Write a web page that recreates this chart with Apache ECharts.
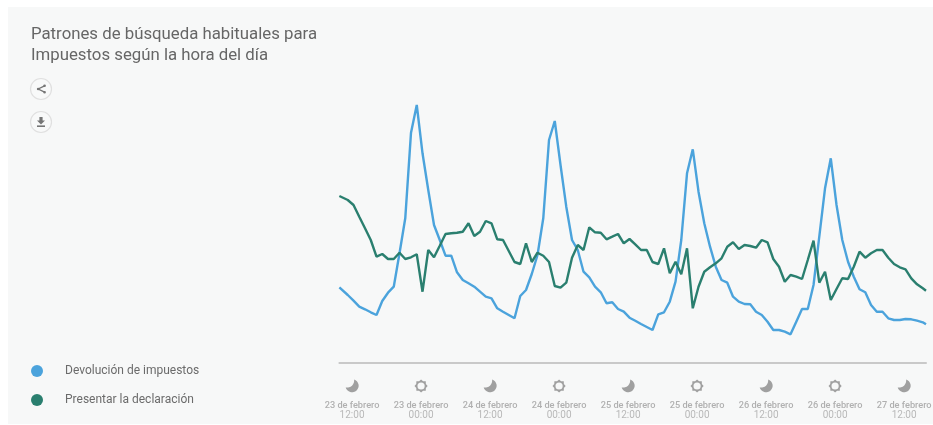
<!DOCTYPE html>
<html>
<head>
<meta charset="utf-8">
<style>html,body{margin:0;padding:0;background:#fff}#chart{width:933px;height:425px}</style>
<script src="https://cdn.jsdelivr.net/npm/echarts@6/dist/echarts.min.js"></script>
</head>
<body>
<div id="chart"></div>
<script>
// Hour offset of each sample; the first and last samples fall between whole hours.
const hours = [-0.46, 1, 2, 3, 4, 5, 6, 7, 8, 9, 10, 11, 12, 13, 14, 15, 16, 17, 18, 19, 20,
  21, 22, 23, 24, 25, 26, 27, 28, 29, 30, 31, 32, 33, 34, 35, 36, 37, 38, 39, 40,
  41, 42, 43, 44, 45, 46, 47, 48, 49, 50, 51, 52, 53, 54, 55, 56, 57, 58, 59, 60,
  61, 62, 63, 64, 65, 66, 67, 68, 69, 70, 71, 72, 73, 74, 75, 76, 77, 78, 79, 80,
  81, 82, 83, 84, 85, 86, 87, 88, 89, 90, 91, 92, 93, 94, 95, 96, 97, 98, 99, 100,
  101, 101.56];

const devolucion = [75.7, 68, 62.3, 56.3, 53.7, 50.7, 48, 62, 70.3, 76.3, 109.7, 144.7, 230.3, 258, 209.7,
  173, 138, 123, 107.3, 107.3, 90.7, 83, 79.7, 76.3, 71.3, 66.3, 64.7, 54.7, 51.3, 48,
  44.7, 67, 73, 89, 108, 144.7, 223, 242, 198, 156.3, 123, 113, 91.3, 85.7, 76.3,
  70.7, 59.7, 60.7, 54, 51.3, 45.3, 42.3, 39, 36, 33, 48.7, 50.7, 61.3, 81.3, 123,
  189.7, 213.7, 171.3, 139.7, 116.3, 96.3, 83, 80.3, 66.3, 61.3, 59, 58.7, 51.3, 48, 41.3,
  33, 33, 31.3, 28.7, 41.3, 54, 54, 78, 126.3, 174.7, 204.7, 158, 123, 101.3, 86.3,
  73.7, 70.7, 58, 51.3, 51.3, 44.7, 43, 43, 44, 43.7, 42.3, 40.7, 38.7];

const presentar = [167, 163, 158, 146.3, 134.7, 123, 106.3, 109, 104, 104, 110.3, 104, 105.7, 108.7, 71.3,
  113, 105.7, 117.3, 129, 129.7, 130.3, 131.3, 139.7, 127, 131.3, 142, 139.7, 123.7, 123, 112,
  101, 99, 119.7, 101, 110.3, 107.3, 101, 77, 75.3, 80.3, 105.3, 118, 113, 135.7, 130.7,
  130.3, 123.7, 126.3, 129, 119.7, 124, 118.7, 113, 113, 101, 99, 114.7, 89.7, 101.3, 88.7,
  114.7, 54.7, 76.3, 91.3, 95.7, 99.7, 104.7, 116.3, 120.7, 114, 118, 117, 115.3, 123, 120.7,
  104, 96.3, 81.3, 88, 86.3, 84, 103, 122.3, 80.3, 91.3, 63, 74, 84.7, 84, 96.3,
  111.3, 105.3, 109.7, 113, 113, 105.3, 99, 95.7, 93.7, 84.7, 78.7, 74.7, 72.3];

const tickHours = [1.75, 13.75, 25.75, 37.75, 49.75, 61.75, 73.75, 85.75, 97.75];
const tickDates = ['23 de febrero', '23 de febrero', '24 de febrero', '24 de febrero', '25 de febrero',
  '25 de febrero', '26 de febrero', '26 de febrero', '27 de febrero'];
const tickTimes = ['12:00', '00:00', '12:00', '00:00', '12:00', '00:00', '12:00', '00:00', '12:00'];

const seriesNames = ['Devolución de impuestos', 'Presentar la declaración'];
const seriesColors = ['#4ba3dc', '#2a7f6f'];

const svgUri = s => 'data:image/svg+xml;charset=utf-8,' + encodeURIComponent(s);
const moonIcon = svgUri('<svg xmlns="http://www.w3.org/2000/svg" width="28" height="28" viewBox="0 0 14 14"><path d="M9 0.4 A6.6 6.6 0 1 1 0.6 8.4 A7 7 0 0 0 9 0.4 Z" fill="#a0a0a0"/></svg>');
const sunIcon = svgUri('<svg xmlns="http://www.w3.org/2000/svg" width="28" height="28" viewBox="0 0 14 14"><path d="M7 0.4 L9 2.2 L11.7 2.3 L11.8 5 L13.6 7 L11.8 9 L11.7 11.7 L9 11.8 L7 13.6 L5 11.8 L2.3 11.7 L2.2 9 L0.4 7 L2.2 5 L2.3 2.3 L5 2.2 Z" fill="#a0a0a0"/><circle cx="7" cy="7" r="3.6" fill="#f7f8f8"/></svg>');

const chart = echarts.init(document.getElementById('chart'), null, { renderer: 'canvas' });

const tickLabel = h => {
  const i = tickHours.findIndex(t => Math.abs(t - h) < 0.01);
  if (i < 0) return '';
  const icon = i % 2 === 0 ? 'moon' : 'sun';
  return '{' + icon + '|}\n{date|' + tickDates[i] + '}\n{time|' + tickTimes[i] + '}';
};

const roundButton = (cy, glyphs) => ({
  type: 'group',
  x: 41, y: cy,
  children: [
    { type: 'circle', shape: { cx: 0, cy: 0, r: 10.5 }, style: { fill: '#f8f9f9', stroke: '#e0e0e0', lineWidth: 1.2 } }
  ].concat(glyphs)
});

chart.setOption({
  animation: false,
  backgroundColor: '#ffffff',
  textStyle: { fontFamily: 'Roboto' },
  title: {
    text: 'Patrones de búsqueda habituales para\nImpuestos según la hora del día',
    left: 31, top: 24, padding: 0,
    textStyle: { fontFamily: 'Roboto', fontSize: 16.8, fontWeight: 400, color: '#666666', lineHeight: 21 }
  },
  graphic: [
    { type: 'rect', z: -10, silent: true, shape: { x: 8, y: 7, width: 925, height: 417 }, style: { fill: '#f7f8f8' } },
    roundButton(89, [
      { type: 'polyline', shape: { points: [[3.6, -3.2], [-2.8, 0], [3.6, 3.2]] }, style: { fill: null, stroke: '#757575', lineWidth: 1.3 } },
      { type: 'circle', shape: { cx: -2.8, cy: 0, r: 1.3 }, style: { fill: '#757575' } },
      { type: 'circle', shape: { cx: 3.6, cy: -3.2, r: 1.3 }, style: { fill: '#757575' } },
      { type: 'circle', shape: { cx: 3.6, cy: 3.2, r: 1.3 }, style: { fill: '#757575' } }
    ]),
    roundButton(122, [
      { type: 'polygon', shape: { points: [[-1.6, -5], [1.6, -5], [1.6, -1.6], [4, -1.6], [0, 2.4], [-4, -1.6], [-1.6, -1.6]] }, style: { fill: '#757575' } },
      { type: 'rect', shape: { x: -4, y: 3.4, width: 8, height: 1.6 }, style: { fill: '#757575' } }
    ])
  ],
  legend: {
    orient: 'vertical',
    left: 31, top: 365, padding: 0,
    itemWidth: 12, itemHeight: 12, itemGap: 17,
    icon: 'circle',
    data: seriesNames,
    textStyle: { fontFamily: 'Roboto', fontSize: 12, color: '#6b6b6b', padding: [0, 0, 0, 17] }
  },
  grid: { left: 339.36, width: 586.64, top: 104, height: 259, outerBoundsMode: 'none' },
  xAxis: {
    type: 'value',
    min: hours[0],
    max: hours[hours.length - 1],
    splitLine: { show: false },
    axisLine: { show: true, onZero: false, lineStyle: { color: '#c9c9c9', width: 2 } },
    axisTick: { show: false },
    axisLabel: {
      show: true,
      customValues: tickHours,
      hideOverlap: false,
      showMinLabel: true,
      showMaxLabel: true,
      margin: 13,
      formatter: tickLabel,
      rich: {
        moon: { height: 14, width: 14, align: 'center', backgroundColor: { image: moonIcon }, lineHeight: 20 },
        sun: { height: 14, width: 14, align: 'center', backgroundColor: { image: sunIcon }, lineHeight: 20 },
        date: { fontFamily: 'Roboto', fontSize: 9.2, fontWeight: 500, color: '#b0b0b0', lineHeight: 12, align: 'center', padding: [7, 0, 0, 0] },
        time: { fontFamily: 'Roboto', fontSize: 10, color: '#b8b8b8', lineHeight: 11, align: 'center', padding: [4, 0, 0, 0] }
      }
    }
  },
  yAxis: { type: 'value', min: 0, max: 259, show: false },
  series: [
    {
      name: seriesNames[0],
      type: 'line',
      clip: false,
      symbol: 'none',
      data: hours.map((h, i) => [h, devolucion[i]]),
      lineStyle: { color: seriesColors[0], width: 2.4 },
      itemStyle: { color: seriesColors[0] }
    },
    {
      name: seriesNames[1],
      type: 'line',
      clip: false,
      symbol: 'none',
      data: hours.map((h, i) => [h, presentar[i]]),
      lineStyle: { color: seriesColors[1], width: 2.4 },
      itemStyle: { color: seriesColors[1] }
    }
  ]
});
</script>
</body>
</html>
